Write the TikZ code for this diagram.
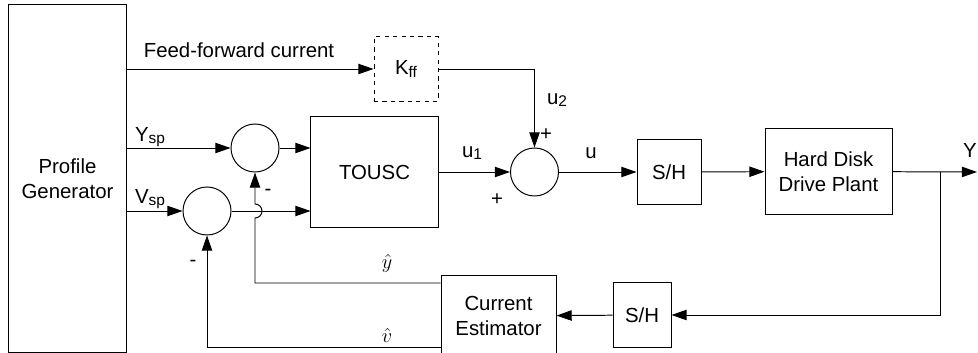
\documentclass[tikz,border=0pt]{standalone}
\usepackage{fontspec}
\setmainfont{Liberation Sans}
\usetikzlibrary{arrows.meta,calc,positioning}
\tikzset{block/.style={draw,line width=0.7pt,align=center,inner sep=2pt,font=\fontsize{14.5}{18}\selectfont},
  ffblock/.style={block,dashed},
  sumnode/.style={draw,circle,line width=0.7pt,minimum size=1.2cm,inner sep=0pt},
  arr/.style={-{Triangle[length=3.8mm,width=2.6mm]},line width=0.7pt},
  lbl/.style={font=\fontsize{14.5}{18}\selectfont,inner sep=1pt}}
\newcommand{\lowsub}[1]{\raisebox{-0.25ex}{\fontsize{11}{12}\selectfont #1}}
\begin{document}
\begin{tikzpicture}[x=0.025cm,y=-0.025cm,line width=0.7pt]
\useasboundingbox (0,0) rectangle (978,353);
\node[block,minimum width=2.95cm,minimum height=8.675cm] (pg) at (67.5,178.5) {Profile\\Generator};
\node[ffblock,minimum size=1.6cm] (kff) at (406,69) {K\lowsub{ff}};
\node[block,minimum width=3.175cm,minimum height=2.75cm] (tousc) at (374.5,172) {TOUSC};
\node[sumnode] (s1) at (255,148) {};
\node[sumnode] (s2) at (207,211) {};
\node[sumnode] (s3) at (534.5,172) {};
\node[block,minimum size=1.6cm] (sh1) at (669,172) {S/H};
\node[block,minimum width=3.175cm,minimum height=2.125cm] (plant) at (828.5,171.5) {Hard Disk\\Drive Plant};
\node[block,minimum width=1.45cm,minimum height=1.6cm] (sh2) at (642,315) {S/H};
\node[block,minimum width=2.875cm,minimum height=2cm] (est) at (498.5,316) {Current\\Estimator};
\coordinate (j) at (940,172);
\coordinate (yout) at (977,172);
\coordinate (yh) at (0,283);
\coordinate (vh) at (0,347);

\draw[arr] (pg.east |- kff) -- (kff);
\draw[arr] (kff.east) -| (s3.north);
\draw[arr] (pg.east |- s1) -- (s1);
\draw[arr] (pg.east |- s2) -- (s2);
\draw[arr] (s1) -- (s1 -| tousc.west);
\draw[arr] (s2) -- (s2 -| tousc.west);
\draw[arr] (tousc) -- (s3);
\draw[arr] (s3) -- (sh1);
\draw[arr] (sh1) -- (plant);
\draw[arr] (plant) -- (yout);
\draw[arr] (j) |- (sh2);
\draw[arr] (sh2) -- (est);
\draw[arr] (est.west |- yh) -- (s1 |- yh) -- ($(s1 |- s2)+(0,7)$) arc[start angle=-90,end angle=90,radius=0.175cm] -- (s1);
\draw[arr] (est.west |- vh) -| (s2);

\node[lbl] (fftxt) at (239,50) {Feed-forward current};
\node[lbl] (ysp) at (150,137) {Y\lowsub{sp}};
\node[lbl] (vsp) at (150,199) {V\lowsub{sp}};
\node[lbl] (u2) at (557,100) {u\lowsub{2}};
\node[lbl] (plus2) at (546,135) {+};
\node[lbl] (u1) at (472,153) {u\lowsub{1}};
\node[lbl] (plus1) at (497,200) {+};
\node[lbl] (u) at (591,153) {u};
\node[lbl] (yo) at (970,150) {Y};
\node[lbl] (minus1) at (268,192) {-};
\node[lbl] (minus2) at (193,263) {-};
\node[lbl] (yhat) at (387,263) {$\hat{y}$};
\node[lbl] (vhat) at (387,335) {$\hat{v}$};
\end{tikzpicture}
\end{document}
